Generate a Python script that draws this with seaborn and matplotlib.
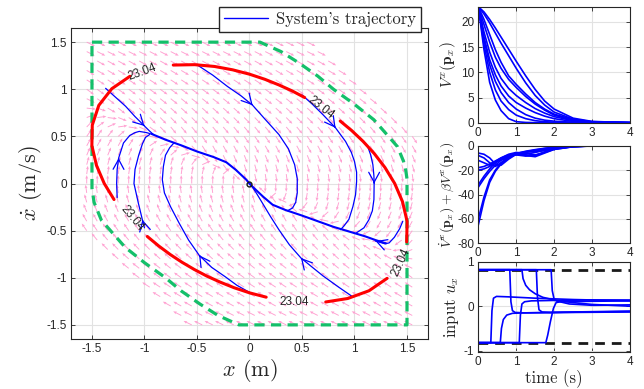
import numpy as np
import pandas as pd
import seaborn as sns
from matplotlib import pyplot as plt
from matplotlib.lines import Line2D
from matplotlib.ticker import FuncFormatter

# ---------------- phase plane ----------------
# level set V = 23.04, upper half going counter-clockwise from +x axis
# (lower half is the point mirror of it)
level_upper_x = [1.383, 1.290, 1.188, 1.081, 0.973, 0.864, 0.754, 0.642, 0.526,
                 0.407, 0.280, 0.146, 0.0, -0.159, -0.333, -0.522, -0.726,
                 -0.936, -1.138, -1.311, -1.435, -1.497, -1.501, -1.457, -1.383]
level_upper_y = [0.0, 0.170, 0.318, 0.448, 0.562, 0.663, 0.754, 0.836, 0.912,
                 0.982, 1.046, 1.106, 1.160, 1.206, 1.242, 1.261, 1.257, 1.220,
                 1.138, 1.006, 0.829, 0.620, 0.402, 0.192, 0.0]
level_arcs = [(45, 53), (8, 16), (18, 25), (28, 37), (40, 43)]
level_text = "23.04"
level_label_x = [-1.02, 0.68, 1.44, 0.43, -1.12]
level_label_y = [1.185, 0.80, -0.84, -1.253, -0.367]
level_label_rot = [20, -38, 65, 0, -50]

# safe-set boundary (upper right curved piece, the lower left one is mirrored)
safe_curve_x = [0.1, 0.3, 0.47, 0.65, 0.8, 1.0, 1.185, 1.3, 1.41, 1.48, 1.5]
safe_curve_y = [1.5, 1.4, 1.28, 1.14, 1.0, 0.84, 0.676, 0.53, 0.39, 0.2, 0.05]

# system trajectories in the phase plane
traj_x = [
    [-1.37, -1.28, -1.18, -1.09, -1.0, -0.95, -0.92],
    [-1.26, -1.265, -1.26, -1.246, -1.2, -1.14, -1.09, -1.05, -0.98, -0.92],
    [-1.0, -1.02, -1.06, -1.10, -1.09, -1.055, -1.02, -0.99, -0.95],
    [0.0, -0.12, -0.23, -0.36, -0.48, -0.58, -0.67, -0.75, -0.81, -0.83, -0.82, -0.80, -0.76, -0.72],
    [-0.5, -0.35, -0.21, -0.08, 0.03, 0.15, 0.28, 0.37, 0.43, 0.455, 0.455, 0.44, 0.41, 0.36],
    [0.50, 0.6, 0.7, 0.82, 0.915, 0.97, 1.0, 1.02, 1.02, 1.01, 0.985, 0.947, 0.90, 0.867],
    [1.13, 1.155, 1.175, 1.185, 1.187, 1.185, 1.17, 1.137, 1.09, 1.01],
    [1.46, 1.43, 1.38, 1.33, 1.29, 1.2],
    [0.98, 0.85, 0.7, 0.6, 0.49, 0.38, 0.28, 0.2, 0.13, 0.07, 0.03, 0.0],
]
traj_y = [
    [1.01, 0.92, 0.82, 0.71, 0.61, 0.555, 0.525],
    [-0.15, 0.0, 0.15, 0.27, 0.43, 0.51, 0.54, 0.553, 0.54, 0.52],
    [-0.47, -0.385, -0.2, 0.0, 0.15, 0.30, 0.42, 0.49, 0.52],
    [-1.155, -1.08, -0.99, -0.89, -0.76, -0.6, -0.42, -0.25, -0.1, 0.04, 0.18, 0.3, 0.38, 0.43],
    [1.26, 1.15, 1.03, 0.93, 0.83, 0.68, 0.52, 0.37, 0.2, 0.05, -0.1, -0.2, -0.26, -0.29],
    [0.94, 0.84, 0.73, 0.59, 0.446, 0.33, 0.234, 0.12, 0.02, -0.12, -0.244, -0.38, -0.45, -0.49],
    [0.38, 0.3, 0.2, 0.08, 0.0, -0.17, -0.29, -0.385, -0.47, -0.53],
    [-0.40, -0.48, -0.57, -0.63, -0.64, -0.61],
    [-1.2, -1.1, -0.98, -0.89, -0.79, -0.65, -0.49, -0.35, -0.22, -0.11, -0.04, 0.0],
]
# the two slow branches that most trajectories merge into
branch_x = [[-0.93, -0.8, -0.65, -0.5, -0.34, -0.22, -0.13, -0.03, 0.0],
            [0.0, 0.03, 0.13, 0.22, 0.34, 0.5, 0.65, 0.8, 0.95, 1.1, 1.2, 1.3]]
branch_y = [[0.525, 0.465, 0.405, 0.34, 0.28, 0.225, 0.145, 0.04, 0.0],
            [0.0, -0.035, -0.14, -0.225, -0.28, -0.34, -0.4, -0.46, -0.51, -0.56, -0.6, -0.635]]
# direction arrows drawn on the trajectories
arrow_x = [-1.0, -1.246, -1.02, -0.48, 0.03, 0.82, 1.187, 1.2, 0.49]
arrow_y = [0.61, 0.27, -0.385, -0.76, 0.83, 0.59, 0.0, -0.61, -0.79]
arrow_dx = [0.09, 0.01, -0.04, -0.1, 0.12, 0.095, 0.0, -0.1, -0.11]
arrow_dy = [-0.1, 1.0, 0.185, 0.16, -0.15, -0.144, -1.0, 0.04, 0.14]

# closed-loop vector field: x' = v, v' = sat(-kp x - kd v)
k_p, k_d, u_max = 2.0, 4.0, 0.8

# ---------------- time responses ----------------
t_grid = [0, 0.15, 0.3, 0.45, 0.6, 0.8, 1.0, 1.25, 1.5, 1.75, 2.0, 2.5, 3.0, 4.0]
lyap_runs = [
    [23.04, 22.0, 20.5, 18.8, 17.0, 14.6, 12.2, 9.3, 6.6, 4.3, 2.7, 0.9, 0.25, 0],
    [23.04, 21.6, 19.8, 17.8, 15.8, 13.3, 10.8, 7.9, 5.4, 3.5, 2.1, 0.7, 0.2, 0],
    [23.04, 20.5, 17.5, 14.5, 12.0, 9.3, 7.6, 5.7, 4.0, 2.7, 1.7, 0.6, 0.15, 0],
    [23.04, 19.5, 16.0, 13.0, 10.8, 8.6, 7.0, 5.2, 3.7, 2.5, 1.5, 0.5, 0.12, 0],
    [23.04, 18.0, 14.0, 11.0, 8.8, 6.8, 5.4, 4.0, 2.8, 1.9, 1.2, 0.4, 0.1, 0],
    [23.04, 17.0, 12.5, 9.5, 7.3, 5.3, 4.0, 2.9, 2.0, 1.3, 0.8, 0.25, 0.06, 0],
    [23.04, 16.5, 11.5, 8.2, 6.0, 4.0, 2.7, 1.6, 0.9, 0.5, 0.3, 0.08, 0.02, 0],
    [23.04, 15.5, 10.0, 6.5, 4.3, 2.6, 1.5, 0.8, 0.4, 0.2, 0.1, 0.03, 0.01, 0],
    [23.04, 14.5, 8.0, 4.5, 2.4, 0.8, 0.2, 0.05, 0.01, 0, 0, 0, 0, 0],
]
decay_runs = [
    [-65, -45, -30, -21, -15, -10, -7, -5, -3.5, -2.3, -1.5, -0.5, -0.1, 0],
    [-60, -42, -28, -20, -14, -9.5, -6.5, -4.5, -3.2, -2.1, -1.3, -0.4, -0.1, 0],
    [-34, -27, -21, -16, -12, -9, -7, -5.5, -4, -2.5, -1.5, -0.5, -0.1, 0],
    [-32, -25, -19, -14, -11, -8.5, -7.5, -7, -5.5, -3.5, -2, -0.6, -0.15, 0],
    [-20, -19, -17, -14, -11, -8, -7.5, -8.5, -8, -5, -2.5, -0.7, -0.15, 0],
    [-18, -17, -15, -12.5, -10, -7.5, -6.5, -8, -9, -6, -3, -0.8, -0.2, 0],
    [-12, -14, -16, -13, -10, -7, -5.5, -6.5, -7.5, -5.5, -3, -0.8, -0.2, 0],
    [-8, -10, -14, -17, -14, -9, -6, -5, -5, -4, -2.5, -0.7, -0.15, 0],
    [-6, -7, -10, -15, -16, -11, -7, -5, -4, -3, -2, -0.6, -0.15, 0],
]
input_t = [
    [0, 0.83, 0.86, 0.9, 0.97, 1.2, 2.0, 3.0, 4.0],
    [0, 1.15, 1.18, 1.25, 1.35, 1.5, 1.7, 2.0, 2.5, 3.0, 4.0],
    [0, 1.53, 1.56, 1.6, 1.68, 1.9, 2.5, 4.0],
    [0, 1.92, 1.95, 2.0, 2.1, 2.3, 3.0, 4.0],
    [0, 0.33, 0.36, 0.4, 0.48, 0.8, 1.5, 2.5, 4.0],
    [0, 0.58, 0.61, 0.66, 0.75, 0.9, 1.2, 2.5, 4.0],
    [0, 1.08, 1.11, 1.15, 1.22, 1.4, 2.0, 3.0, 4.0],
    [0, 1.78, 1.83, 1.9, 1.98, 2.05, 2.15, 2.4, 3.0, 4.0],
]
input_u = [
    [0.82, 0.82, 0.1, -0.1, -0.14, -0.15, -0.14, -0.13, -0.12],
    [0.82, 0.82, 0.62, 0.47, 0.37, 0.28, 0.2, 0.14, 0.08, 0.04, 0.0],
    [0.82, 0.82, 0.2, -0.08, -0.13, -0.14, -0.13, -0.11],
    [0.82, 0.82, 0.35, 0.15, 0.1, 0.1, 0.11, 0.12],
    [-0.82, -0.82, -0.1, 0.18, 0.22, 0.21, 0.18, 0.15, 0.12],
    [-0.82, -0.82, -0.5, -0.3, -0.2, -0.16, -0.15, -0.14, -0.13],
    [-0.82, -0.82, -0.2, 0.05, 0.1, 0.12, 0.13, 0.14, 0.14],
    [-0.82, -0.82, -0.65, -0.35, -0.05, 0.08, 0.1, 0.05, 0.02, 0.03],
]
input_limit = 0.82

# ---------------- style ----------------
sns.set_theme(style="whitegrid")
plt.rcParams.update({
    "font.family": ["Liberation Sans", "DejaVu Sans"],
    "mathtext.fontset": "cm",
    "axes.unicode_minus": False,
    "axes.edgecolor": "#262626",
    "axes.linewidth": 0.8,
    "axes.grid": True,
    "grid.color": "#e2e2e2",
    "grid.linewidth": 0.8,
    "xtick.direction": "in",
    "ytick.direction": "in",
    "xtick.bottom": True,
    "ytick.left": True,
    "xtick.top": True,
    "ytick.right": True,
    "xtick.major.size": 3,
    "ytick.major.size": 3,
    "xtick.major.width": 0.6,
    "ytick.major.width": 0.6,
    "xtick.major.pad": 3,
    "ytick.major.pad": 3,
    "xtick.color": "#262626",
    "ytick.color": "#262626",
    "xtick.labelsize": 8.5,
    "ytick.labelsize": 8.5,
})
num_fmt = FuncFormatter(lambda v, p: f"{v:g}")
blue = "#0000ff"

fig = plt.figure(figsize=(6.44, 3.89), dpi=100)
ax = fig.add_axes([0.1102, 0.1285, 0.5544, 0.7995])

# vector field
gx, gy = np.meshgrid(np.arange(-1.55, 1.56, 0.1), np.arange(-1.5, 1.51, 0.1))
inside = np.abs(gx + gy) <= 2.11
fu = gy
fv = np.clip(-k_p * gx - k_d * gy, -u_max, u_max)
mag = np.hypot(fu, fv)
mag[mag == 0] = 1
alen = 0.088
ax.quiver(gx[inside], gy[inside], (fu / mag * alen)[inside], (fv / mag * alen)[inside],
          angles="xy", scale_units="xy", scale=1, color="#ff9ccf", alpha=0.95,
          width=0.0026, headwidth=3.2, headlength=3.8, headaxislength=3.3, zorder=2)

# safe set boundary
sx = [-1.5] + safe_curve_x + [1.5] + [-v for v in safe_curve_x] + [-1.5]
sy = [1.5] + safe_curve_y + [-1.5] + [-v for v in safe_curve_y] + [1.5]
ax.plot(sx, sy, color="#14c06a", lw=2.3, dashes=(3.2, 2.0), zorder=3)

# level set arcs
full_x = level_upper_x + [-v for v in level_upper_x[1:]]
full_y = level_upper_y + [-v for v in level_upper_y[1:]]
n_lv = len(full_x) - 1
arc_rows = []
for k, (a, b) in enumerate(level_arcs):
    for i in range(a, b + 1):
        arc_rows.append((full_x[i % n_lv], full_y[i % n_lv], k))
arc_df = pd.DataFrame(arc_rows, columns=["x", "y", "arc"])
sns.lineplot(data=arc_df, x="x", y="y", units="arc", estimator=None, sort=False,
             color="#ff0000", lw=2.2, ax=ax, legend=False, zorder=5)
for lx, ly, lr in zip(level_label_x, level_label_y, level_label_rot):
    ax.text(lx, ly, level_text, rotation=lr, ha="center", va="center",
            fontsize=8.5, color="#262626", zorder=6, rotation_mode="anchor")

# trajectories
rows = []
for k, (xs, ys) in enumerate(zip(traj_x, traj_y)):
    rows += [(x, y, k) for x, y in zip(xs, ys)]
traj_df = pd.DataFrame(rows, columns=["x", "y", "run"])
sns.lineplot(data=traj_df, x="x", y="y", units="run", estimator=None, sort=False,
             color=blue, lw=0.9, ax=ax, legend=False, zorder=4)
rows = []
for k, (xs, ys) in enumerate(zip(branch_x, branch_y)):
    rows += [(x, y, k) for x, y in zip(xs, ys)]
branch_df = pd.DataFrame(rows, columns=["x", "y", "run"])
sns.lineplot(data=branch_df, x="x", y="y", units="run", estimator=None, sort=False,
             color=blue, lw=1.5, ax=ax, legend=False, zorder=4)
for x0, y0, dx, dy in zip(arrow_x, arrow_y, arrow_dx, arrow_dy):
    s = 0.01 / np.hypot(dx, dy)
    ax.annotate("", xy=(x0, y0), xytext=(x0 - dx * s, y0 - dy * s),
                arrowprops=dict(arrowstyle="->,head_length=0.55,head_width=0.3",
                                color=blue, lw=0.9, shrinkA=0, shrinkB=0,
                                mutation_scale=13), zorder=4)
ax.plot([0], [0], marker="o", ms=3.5, mfc="none", mec="k", mew=1, zorder=7)

ax.set_xlim(-1.7, 1.7)
ax.set_ylim(-1.65, 1.65)
ax.set_xticks([-1.5, -1, -0.5, 0, 0.5, 1, 1.5])
ax.set_yticks([-1.5, -1, -0.5, 0, 0.5, 1, 1.5])
ax.xaxis.set_major_formatter(num_fmt)
ax.yaxis.set_major_formatter(num_fmt)
ax.set_xlabel(r"$x$ (m)", fontfamily="cmr10", fontsize=16, labelpad=1)
ax.set_ylabel(r"$\dot{x}$ (m/s)", fontfamily="cmr10", fontsize=16, labelpad=2)
ax.set_axisbelow(True)

fig.legend(handles=[Line2D([], [], color=blue, lw=1)], labels=["System's trajectory"],
           loc="upper right", bbox_to_anchor=(421 / 644, 1 - 7 / 389),
           frameon=True, fancybox=False, edgecolor="#262626", framealpha=1,
           prop={"family": "cmr10", "size": 12}, borderpad=0.3,
           handlelength=2.6, handletextpad=0.5, borderaxespad=0)

# ---------------- right column ----------------
ax1 = fig.add_axes([0.7427, 0.6846, 0.2356, 0.2982])
ax2 = fig.add_axes([0.7427, 0.3745, 0.2356, 0.2509])
ax3 = fig.add_axes([0.7427, 0.0951, 0.2356, 0.2321])


def long_form(times, runs):
    out = []
    for k, vals in enumerate(runs):
        tt = times[k] if isinstance(times[0], list) else times
        out += [(t, v, k) for t, v in zip(tt, vals)]
    return pd.DataFrame(out, columns=["time", "value", "run"])


for a, df in [(ax1, long_form(t_grid, lyap_runs)),
              (ax2, long_form(t_grid, decay_runs)),
              (ax3, long_form(input_t, input_u))]:
    sns.lineplot(data=df, x="time", y="value", units="run", estimator=None,
                 sort=False, color=blue, lw=1.2, ax=a, legend=False)
    a.set_xlim(0, 4)
    a.set_xticks([0, 1, 2, 3, 4])
    a.xaxis.set_major_formatter(num_fmt)
    a.yaxis.set_major_formatter(num_fmt)
    a.set_xlabel("")

for lim in (input_limit, -input_limit):
    ax3.plot([0, 4], [lim, lim], color="k", lw=2, dashes=(3.5, 2.5), zorder=1)

ax1.set_ylim(0, 23.04)
ax1.set_yticks([0, 5, 10, 15, 20])
ax2.set_ylim(-80, 0)
ax2.set_yticks([-80, -60, -40, -20, 0])
ax3.set_ylim(-1.03, 1.0)
ax3.set_yticks([-1, 0, 1])

ax1.set_ylabel(r"$V^x(\mathbf{p}_x)$", fontsize=11, labelpad=2)
ax2.set_ylabel(r"$\dot{V}^x(\mathbf{p}_x)+\beta V^x(\mathbf{p}_x)$", fontsize=10, labelpad=1)
ax3.set_ylabel(r"input $u_x$", fontfamily="cmr10", fontsize=12, labelpad=2)
ax3.set_xlabel("time (s)", fontfamily="cmr10", fontsize=12, labelpad=1)

fig.savefig("out.png", dpi=100)
